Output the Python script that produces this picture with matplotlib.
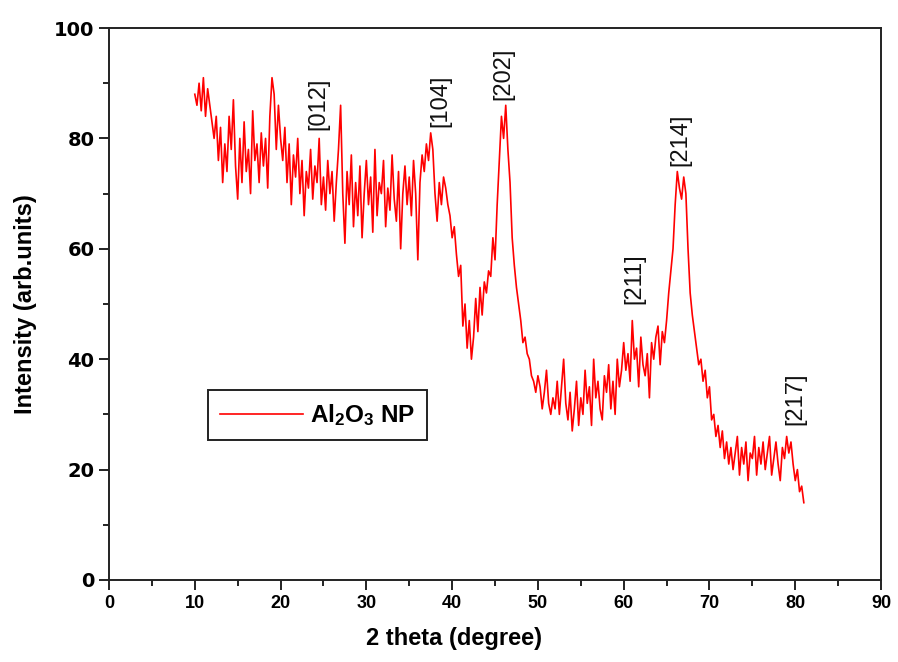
import numpy as np
import matplotlib
matplotlib.use('Agg')
from matplotlib import pyplot as plt

# 2 theta from 10 to 81 deg, step 0.25
two_theta = np.arange(10.0, 81.01, 0.25)
intensity = [
    88, 86, 90, 85, 91, 84, 89, 86, 83, 80, 84, 76, 82, 72, 79, 74, 84, 78, 87, 75,
    69, 80, 72, 83, 74, 78, 70, 85, 76, 79, 72, 81, 75, 80, 71, 84, 91, 88, 78, 86,
    80, 76, 82, 72, 79, 68, 77, 73, 80, 70, 76, 66, 74, 71, 78, 69, 75, 72, 80, 68,
    73, 67, 76, 70, 74, 65, 72, 78, 86, 70, 61, 74, 68, 77, 64, 72, 66, 75, 62, 70,
    76, 68, 73, 63, 78, 66, 72, 70, 76, 64, 71, 67, 77, 69, 65, 74, 60, 70, 75, 68,
    73, 66, 76, 70, 58, 72, 77, 74, 79, 76, 81, 78, 70, 65, 72, 68, 73, 71, 68, 66,
    62, 64, 59, 55, 57, 46, 50, 42, 47, 40, 44, 51, 45, 53, 48, 54, 52, 56, 55, 62,
    58, 68, 76, 84, 80, 86, 78, 72, 62, 57, 53, 50, 47, 43, 44, 41, 40, 37, 36, 34,
    37, 35, 31, 34, 38, 32, 30, 33, 31, 36, 30, 35, 40, 32, 29, 34, 27, 31, 36, 28,
    33, 30, 38, 32, 35, 28, 40, 33, 36, 31, 29, 37, 34, 39, 31, 36, 30, 40, 35, 38,
    43, 38, 41, 36, 47, 40, 42, 35, 44, 39, 37, 41, 33, 43, 40, 44, 46, 39, 45, 43,
    47, 52, 56, 60, 68, 74, 71, 69, 73, 70, 60, 52, 48, 45, 42, 39, 40, 36, 38, 33,
    35, 29, 30, 26, 28, 24, 27, 22, 25, 21, 24, 20, 23, 26, 19, 24, 21, 25, 18, 23,
    22, 26, 19, 24, 21, 25, 20, 23, 26, 19, 22, 25, 21, 18, 24, 22, 26, 23, 25, 21,
    18, 20, 16, 17, 14,
]

# peak labels (hkl) and where they sit
peak_labels = ['[012]', '[104]', '[202]', '[211]', '[214]', '[217]']
peak_x = [24.4, 38.6, 46.0, 61.2, 66.6, 80.0]
peak_y = [81.5, 82.0, 87.0, 50.0, 75.0, 28.0]

plt.rcParams['mathtext.fontset'] = 'custom'
plt.rcParams['mathtext.rm'] = 'Liberation Sans:bold'
plt.rcParams['mathtext.default'] = 'rm'

fig = plt.figure(figsize=(8.98, 6.62), dpi=100)
ax = fig.add_axes([0.1214, 0.1239, 0.8597, 0.8338])

ax.plot(two_theta, intensity, color='#ff0000', linewidth=1.2, label=r'Al$_2$O$_3$ NP')

for lab, px, py in zip(peak_labels, peak_x, peak_y):
    ax.text(px, py, lab, rotation=90, ha='center', va='bottom',
            fontsize=17, family='Liberation Sans', color='#111111')

ax.set_xlim(0, 90)
ax.set_ylim(0, 100)
ax.set_xticks(np.arange(0, 91, 10))
ax.set_xticks(np.arange(5, 90, 10), minor=True)
ax.set_yticks(np.arange(0, 101, 20))
ax.set_yticks(np.arange(10, 100, 20), minor=True)

for s in ax.spines.values():
    s.set_linewidth(1.4)
    s.set_color('#222222')

ax.tick_params(which='both', direction='out', top=False, right=False, width=1.4, color='#222222')
ax.tick_params(which='major', length=7)
ax.tick_params(which='minor', length=4)

for t in ax.get_xticklabels():
    t.set_family('Liberation Sans')
    t.set_fontweight('bold')
    t.set_fontsize(13)
for t in ax.get_yticklabels():
    t.set_family('DejaVu Sans')
    t.set_fontweight('bold')
    t.set_fontsize(14)

ax.set_xlabel('2 theta (degree)', fontsize=17, fontweight='bold', family='Liberation Sans')
ax.xaxis.set_label_coords(0.447, -0.085)
ax.set_ylabel('Intensity (arb.units)', fontsize=17, fontweight='bold',
              family='Liberation Sans', labelpad=12)

leg = ax.legend(loc='upper left', bbox_to_anchor=(0.128, 0.344), fancybox=False,
                edgecolor='#222222', framealpha=1, handlelength=3.4,
                handletextpad=0.3, borderpad=0.5, borderaxespad=0,
                prop={'family': 'Liberation Sans', 'weight': 'bold', 'size': 17.5})
leg.get_frame().set_linewidth(1.4)

fig.savefig('out.png', dpi=100)
